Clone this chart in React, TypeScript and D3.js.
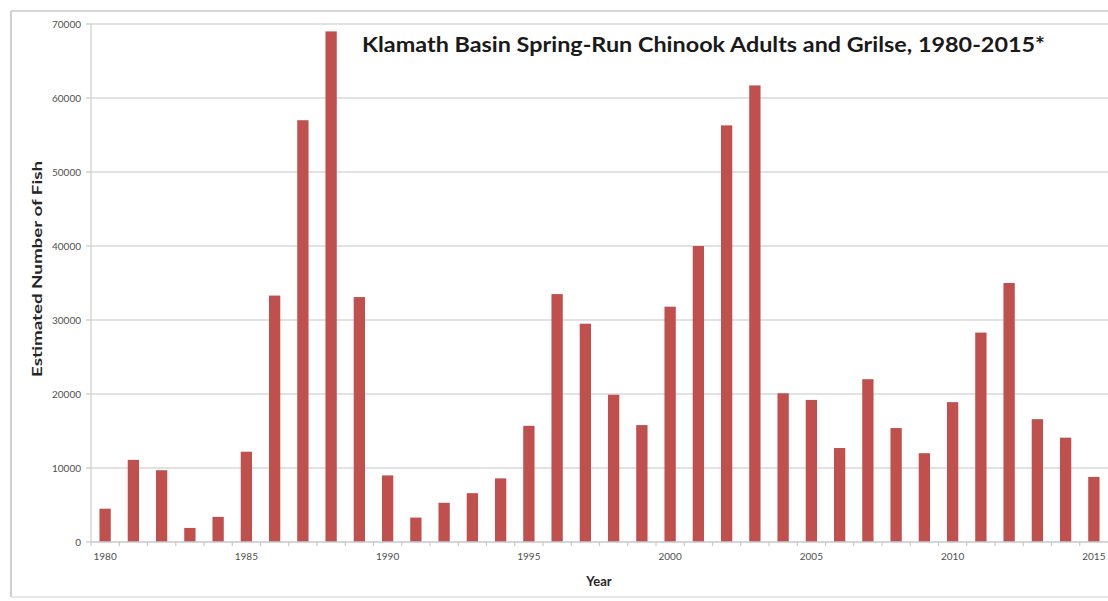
import React from "react";
import * as d3 from "d3";

const years: number[] = [
  1980, 1981, 1982, 1983, 1984, 1985, 1986, 1987, 1988, 1989,
  1990, 1991, 1992, 1993, 1994, 1995, 1996, 1997, 1998, 1999,
  2000, 2001, 2002, 2003, 2004, 2005, 2006, 2007, 2008, 2009,
  2010, 2011, 2012, 2013, 2014, 2015,
];
const fish: number[] = [
  4500, 11100, 9700, 1900, 3400, 12200, 33300, 57000, 69000, 33100,
  9000, 3300, 5300, 6600, 8600, 15700, 33500, 29500, 19900, 15800,
  31800, 40000, 56300, 61700, 20100, 19200, 12700, 22000, 15400, 12000,
  18900, 28300, 35000, 16600, 14100, 8800,
];
const yTicks: number[] = [0, 10000, 20000, 30000, 40000, 50000, 60000, 70000];
const xLabelYears: number[] = [1980, 1985, 1990, 1995, 2000, 2005, 2010, 2015];

const W = 1108;
const H = 601;
const left = 91;
const right = 1108;
const top = 24;
const bottom = 542;
const FONT = "Lato, 'Open Sans', sans-serif";

export default function App() {
  const x = d3
    .scaleBand<number>()
    .domain(years)
    .range([left, right])
    .paddingInner(0.6)
    .paddingOuter(0.3);
  const y = d3.scaleLinear().domain([0, 70000]).range([bottom, top]);
  const step = x.step();
  const bw = x.bandwidth();
  const boundaries = years.map((yr) => (x(yr) as number) - (step - bw) / 2);

  return (
    <svg
      width={W}
      height={H}
      style={{ position: "absolute", left: 0, top: 0, background: "#fff" }}
    >
      <rect x={0} y={0} width={W} height={H} fill="#fff" />
      {/* outer frame */}
      <line x1={11} y1={11} x2={W} y2={11} stroke="#d6d6d6" strokeWidth={2} />
      <line x1={11} y1={11} x2={11} y2={597} stroke="#d0d0d0" strokeWidth={2} />
      <line x1={11} y1={597} x2={W} y2={597} stroke="#e2e2e2" strokeWidth={1.5} />

      {/* gridlines */}
      {yTicks.map((t) => (
        <g key={t}>
          {t > 0 && (
            <line
              x1={left}
              x2={right}
              y1={y(t)}
              y2={y(t)}
              stroke="#d9d9d9"
              strokeWidth={1.3}
            />
          )}
          <line x1={left - 5} x2={left} y1={y(t)} y2={y(t)} stroke="#c8c8c8" strokeWidth={1.2} />
          <text
            x={left - 10}
            y={y(t)}
            dy="0.35em"
            textAnchor="end"
            fontFamily={FONT}
            fontSize={10}
            fill="#505050"
          >
            {t}
          </text>
        </g>
      ))}

      {/* y axis line */}
      <line x1={left} x2={left} y1={top} y2={bottom} stroke="#d0d0d0" strokeWidth={1.3} />

      {/* bars */}
      {years.map((yr, i) => (
        <rect
          key={yr}
          x={x(yr)}
          y={y(fish[i])}
          width={bw}
          height={bottom - y(fish[i])}
          fill="#c0504d"
        />
      ))}

      {/* x axis line & minor ticks */}
      <line x1={left} x2={right} y1={bottom} y2={bottom} stroke="#c8c8c8" strokeWidth={1.3} />
      {boundaries.map((bx, i) => (
        <line key={i} x1={bx} x2={bx} y1={bottom} y2={bottom + 4} stroke="#c8c8c8" strokeWidth={1.2} />
      ))}

      {xLabelYears.map((yr) => (
        <text
          key={yr}
          x={(x(yr) as number) + bw / 2}
          y={bottom + 18}
          textAnchor="middle"
          fontFamily={FONT}
          fontSize={10}
          fill="#505050"
        >
          {yr}
        </text>
      ))}

      {/* axis titles */}
      <text
        x={599}
        y={586}
        textAnchor="middle"
        fontFamily={FONT}
        fontSize={13}
        fontWeight="bold"
        fill="#262626"
      >
        Year
      </text>
      <text
        transform={`translate(37,${269}) rotate(-90)`}
        textAnchor="middle"
        dy="0.35em"
        fontFamily={FONT}
        fontSize={14}
        fontWeight="bold"
        fill="#262626"
        textLength={216}
        lengthAdjust="spacingAndGlyphs"
      >
        Estimated Number of Fish
      </text>

      {/* chart title */}
      <text
        x={362}
        y={52}
        fontFamily={FONT}
        fontSize={20}
        fontWeight="bold"
        fill="#1a1a1a"
        textLength={683}
        lengthAdjust="spacingAndGlyphs"
      >
        Klamath Basin Spring-Run Chinook Adults and Grilse, 1980-2015*
      </text>
    </svg>
  );
}
